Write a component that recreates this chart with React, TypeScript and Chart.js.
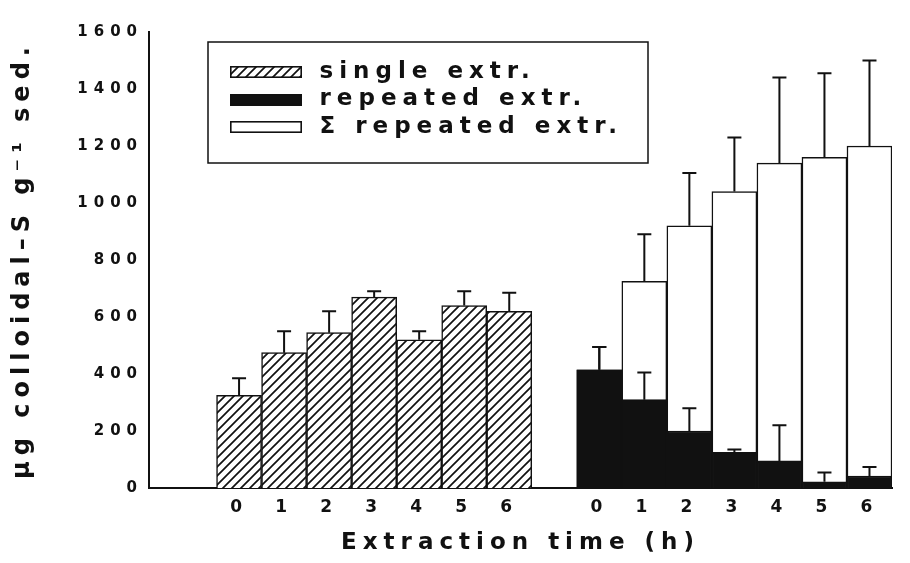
import React, { useEffect, useRef } from 'react';
import { Chart, registerables } from 'chart.js';

Chart.register(...registerables);

// Extraction times (h) for each group of bars
const hours = ['0', '1', '2', '3', '4', '5', '6'];

// µg colloidal-S per g sediment, with the upper error of each bar
const singleExtr = [325, 475, 545, 670, 520, 640, 620];
const singleErr = [60, 75, 75, 20, 30, 50, 65];

const repeatedExtr = [415, 310, 200, 125, 95, 22, 42];
const repeatedErr = [80, 95, 80, 10, 125, 32, 32];

const sumRepeated = [415, 725, 920, 1040, 1140, 1160, 1200];
const sumErr = [80, 165, 185, 190, 300, 295, 300];

const seriesNames = ['single extr.', 'repeated extr.', '\u03A3 repeated extr.'];
const xTitle = 'Extraction time (h)';
const yTitle = '\u03BCg colloidal\u2013S g\u207B\u00B9 sed.';

const yMin = 0;
const yMax = 1600;
const yStep = 200;

// slot layout on the index axis: the single group, one empty slot, then the repeated group
const singleStart = 0;
const repeatedStart = hours.length + 1;

const INK = '#111111';
const FONT = 'DejaVu Sans';

function hatchCanvas(): HTMLCanvasElement {
  const size = 9;
  const c = document.createElement('canvas');
  c.width = size;
  c.height = size;
  const g = c.getContext('2d');
  if (!g) return c;
  g.fillStyle = '#ffffff';
  g.fillRect(0, 0, size, size);
  g.strokeStyle = INK;
  g.lineWidth = 1.7;
  g.beginPath();
  g.moveTo(-1, size + 1);
  g.lineTo(size + 1, -1);
  g.moveTo(-2, 2);
  g.lineTo(2, -2);
  g.moveTo(size - 2, size + 2);
  g.lineTo(size + 2, size - 2);
  g.stroke();
  return c;
}

// small framed swatch used as the legend key of a series
function swatch(fill: string | CanvasPattern | null, w = 72, h = 12): HTMLCanvasElement {
  const c = document.createElement('canvas');
  c.width = w;
  c.height = h;
  const g = c.getContext('2d');
  if (!g) return c;
  g.fillStyle = fill || '#ffffff';
  g.fillRect(0, 0, w, h);
  g.strokeStyle = INK;
  g.lineWidth = 1.6;
  g.strokeRect(0.8, 0.8, w - 1.6, h - 1.6);
  return c;
}

const positionFor = (start: number) => hours.map((_, i) => start + i);
const tickPositions = [...positionFor(singleStart), ...positionFor(repeatedStart)];

const labelAt = (v: number): string => {
  if (v >= repeatedStart) return hours[v - repeatedStart] ?? '';
  return hours[v - singleStart] ?? '';
};

const SPACING = '6px';
const spacedText = {
  id: 'spacedText',
  beforeUpdate(chart: any) {
    chart.ctx.letterSpacing = SPACING;
  },
  beforeDraw(chart: any) {
    chart.ctx.letterSpacing = SPACING;
  },
};

// put the legend inside the plot, towards its upper left
const legendPlacement = {
  id: 'legendPlacement',
  afterLayout(chart: any) {
    const lg = chart.legend;
    if (!lg) return;
    const area = chart.chartArea;
    lg.left = area.left + 70.5;
    lg.top = area.top + 24;
    lg.right = lg.left + lg.width;
    lg.bottom = lg.top + lg.height;
  },
};

// framed box around the legend entries
const legendFrame = {
  id: 'legendFrame',
  afterDraw(chart: any) {
    const area = chart.chartArea;
    const ctx = chart.ctx;
    ctx.save();
    ctx.strokeStyle = INK;
    ctx.lineWidth = 1.5;
    ctx.strokeRect(area.left + 59, area.top + 10, 440, 121);
    ctx.restore();
  },
};

// upper error whiskers with a cap
const errorBars = {
  id: 'errorBars',
  afterDatasetsDraw(chart: any) {
    const ctx = chart.ctx;
    const y = chart.scales.y;
    chart.data.datasets.forEach((ds: any, i: number) => {
      const errs: number[] | undefined = ds.errors;
      if (!errs) return;
      const meta = chart.getDatasetMeta(i);
      meta.data.forEach((bar: any, j: number) => {
        const v = ds.data[j].y;
        const top = y.getPixelForValue(v + errs[j]);
        ctx.save();
        ctx.strokeStyle = INK;
        ctx.lineWidth = 2;
        ctx.beginPath();
        ctx.moveTo(bar.x, bar.y);
        ctx.lineTo(bar.x, top);
        ctx.moveTo(bar.x - 7, top);
        ctx.lineTo(bar.x + 7, top);
        ctx.stroke();
        ctx.restore();
      });
    });
  },
};

export default function App() {
  const canvasRef = useRef<HTMLCanvasElement | null>(null);

  useEffect(() => {
    const canvas = canvasRef.current;
    if (!canvas) return;
    const ctx = canvas.getContext('2d');
    if (!ctx) return;
    const hatchTile = hatchCanvas();
    const hatch = ctx.createPattern(hatchTile, 'repeat') || '#ffffff';
    const swatchCtx = document.createElement('canvas').getContext('2d');
    const keys = [
      swatch(swatchCtx ? swatchCtx.createPattern(hatchTile, 'repeat') : '#ffffff'),
      swatch(INK),
      swatch('#ffffff'),
    ];

    const toPoints = (start: number, values: number[]) =>
      values.map((y, i) => ({ x: start + i, y }));

    const chart = new Chart(canvas, {
      type: 'bar',
      data: {
        datasets: [
          {
            label: seriesNames[0],
            data: toPoints(singleStart, singleExtr),
            errors: singleErr,
            backgroundColor: hatch,
            borderColor: INK,
            borderWidth: 1.5,
          } as any,
          {
            label: seriesNames[1],
            data: toPoints(repeatedStart, repeatedExtr),
            errors: repeatedErr,
            backgroundColor: INK,
            borderColor: INK,
            borderWidth: 1.5,
          } as any,
          {
            label: seriesNames[2],
            data: toPoints(repeatedStart, sumRepeated),
            errors: sumErr,
            backgroundColor: '#ffffff',
            borderColor: INK,
            borderWidth: 1.5,
          } as any,
        ],
      },
      options: {
        responsive: false,
        animation: false,
        devicePixelRatio: 1,
        events: [],
        layout: { padding: { top: 32, right: 18, left: 0, bottom: 0 } },
        datasets: {
          bar: {
            grouped: false,
            barPercentage: 1,
            categoryPercentage: 1,
          },
        },
        scales: {
          x: {
            type: 'linear',
            min: singleStart - 2,
            max: repeatedStart + hours.length - 0.5,
            offset: false,
            grid: { display: false, drawTicks: false },
            border: { display: true, color: INK, width: 2 },
            afterBuildTicks: (scale: any) => {
              scale.ticks = tickPositions.map((value) => ({ value }));
            },
            afterFit: (scale: any) => {
              scale.height = 75;
            },
            ticks: {
              autoSkip: false,
              maxRotation: 0,
              padding: 9,
              color: INK,
              font: { family: FONT, size: 17, weight: 'bold' },
              callback: (v: any) => labelAt(Number(v)),
            },
            title: {
              display: true,
              text: xTitle,
              color: INK,
              font: { family: FONT, size: 23, weight: 'bold' },
              padding: { top: 0, bottom: 6 },
            },
          },
          y: {
            min: yMin,
            max: yMax,
            grid: { display: false, drawTicks: false },
            border: { display: true, color: INK, width: 2 },
            afterFit: (scale: any) => {
              scale.width = 149;
            },
            ticks: {
              stepSize: yStep,
              padding: 6,
              color: INK,
              font: { family: FONT, size: 15, weight: 'bold' },
              callback: (v: any) => String(v),
            },
            title: {
              display: true,
              text: yTitle,
              color: INK,
              font: { family: FONT, size: 24, weight: 'bold' },
              padding: { top: 8, bottom: 0 },
            },
          },
        },
        plugins: {
          legend: {
            position: 'chartArea',
            align: 'start',
            labels: {
              usePointStyle: true,
              pointStyleWidth: 84,
              boxHeight: 12,
              padding: 4.5,
              color: INK,
              font: { family: FONT, size: 23, weight: 'bold' },
              generateLabels: (c: any) =>
                Chart.defaults.plugins.legend.labels
                  .generateLabels(c)
                  .map((item: any, i: number) => ({ ...item, pointStyle: keys[i] })),
            },
          },
          tooltip: { enabled: false },
        },
      } as any,
      plugins: [spacedText, legendPlacement, legendFrame, errorBars],
    });

    return () => chart.destroy();
  }, []);

  return (
    <div style={{ position: 'fixed', left: 0, top: 0, width: 910, height: 563, background: '#ffffff' }}>
      <canvas ref={canvasRef} width={910} height={563} style={{ display: 'block' }} />
    </div>
  );
}
